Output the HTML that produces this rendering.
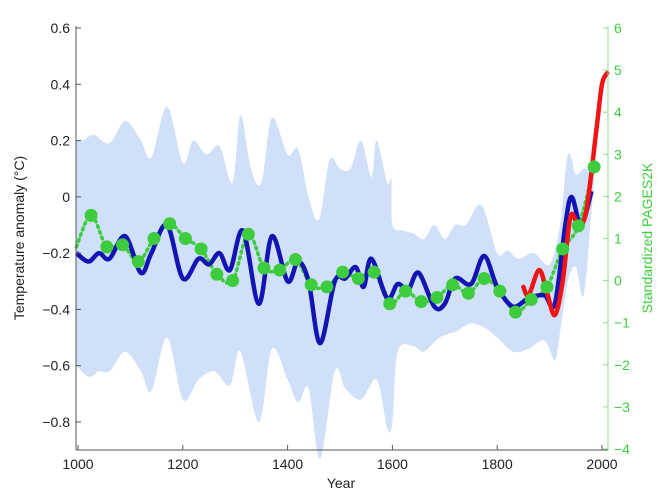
<!DOCTYPE html>
<html><head><meta charset="utf-8"><style>
body{margin:0;background:#fff;}
svg{display:block;font-family:"Liberation Sans",Arial,sans-serif;}
</style></head><body>
<svg id="chart" width="661" height="496" viewBox="0 0 661 496" xmlns="http://www.w3.org/2000/svg">
<g id="band"></g>
<g id="series"></g>
<g id="axes"></g>
<text x="341" y="488" font-size="14" text-anchor="middle" fill="#222">Year</text>
<text transform="translate(24,238) rotate(-90)" font-size="14" text-anchor="middle" fill="#222">Temperature anomaly (°C)</text>
<text transform="translate(652,238) rotate(-90)" font-size="14" text-anchor="middle" fill="#3ccf3c">Standardized PAGES2K</text>
</svg>
<script>
const xTicks=[1000,1200,1400,1600,1800,2000];
const yTicks=[0.6,0.4,0.2,0,-0.2,-0.4,-0.6,-0.8];
const y2Ticks=[6,5,4,3,2,1,0,-1,-2,-3,-4];
const bandUpperYears=[997,1010,1030,1060,1090,1120,1140,1170,1200,1220,1245,1270,1295,1310,1330,1350,1370,1400,1420,1440,1460,1480,1500,1520,1540,1560,1570,1590,1598,1600,1620,1640,1660,1680,1700,1720,1740,1770,1800,1820,1840,1870,1900,1920,1935,1950,1965,1980,1985];
const bandUpper=[0.2,0.2,0.22,0.19,0.27,0.2,0.14,0.32,0.12,0.2,0.15,0.18,0.05,0.29,0.1,0.05,0.28,0.15,0.17,0.0,-0.08,0.13,0.1,0.1,0.2,0.07,0.2,0.05,0.06,-0.1,-0.12,-0.13,-0.15,-0.1,-0.15,-0.1,-0.1,-0.03,-0.2,-0.19,-0.22,-0.2,-0.24,-0.1,0.15,0.08,0.1,0.1,0.12];
const bandLowerYears=[997,1020,1040,1060,1090,1120,1140,1170,1200,1230,1260,1290,1310,1345,1370,1400,1420,1440,1462,1490,1510,1540,1570,1590,1600,1610,1640,1660,1690,1720,1750,1780,1800,1830,1860,1890,1910,1920,1935,1950,1965,1980,1985];
const bandLower=[-0.6,-0.64,-0.62,-0.62,-0.55,-0.62,-0.69,-0.5,-0.72,-0.65,-0.62,-0.67,-0.55,-0.8,-0.54,-0.65,-0.73,-0.68,-0.93,-0.62,-0.68,-0.72,-0.65,-0.82,-0.8,-0.55,-0.53,-0.55,-0.5,-0.48,-0.45,-0.47,-0.5,-0.55,-0.54,-0.51,-0.58,-0.48,-0.3,-0.25,-0.35,-0.05,0.05];
const blueYears=[997,1020,1040,1060,1090,1120,1140,1170,1200,1230,1250,1270,1290,1315,1345,1370,1400,1420,1440,1462,1490,1510,1530,1545,1560,1590,1610,1630,1650,1680,1700,1720,1750,1775,1800,1830,1860,1890,1910,1930,1942,1960,1980];
const blueValues=[-0.2,-0.23,-0.2,-0.22,-0.14,-0.27,-0.2,-0.1,-0.29,-0.22,-0.24,-0.2,-0.26,-0.12,-0.38,-0.14,-0.3,-0.23,-0.3,-0.52,-0.3,-0.29,-0.25,-0.32,-0.22,-0.36,-0.31,-0.33,-0.27,-0.39,-0.38,-0.29,-0.31,-0.21,-0.32,-0.39,-0.36,-0.35,-0.38,-0.1,0.0,-0.1,0.02];
const redYears=[1850,1860,1880,1895,1910,1925,1940,1955,1970,1990,2000,2010];
const redValues=[-0.32,-0.35,-0.26,-0.34,-0.42,-0.3,-0.07,-0.1,-0.05,0.25,0.4,0.44];
const greenYears=[997,1025,1055,1085,1115,1145,1175,1205,1235,1265,1295,1325,1355,1385,1415,1445,1475,1505,1535,1565,1595,1625,1655,1685,1715,1745,1775,1805,1835,1865,1895,1925,1955,1985];
const greenValues=[0.8,1.55,0.8,0.85,0.45,1.0,1.35,1.0,0.75,0.15,0.0,1.1,0.3,0.25,0.5,-0.1,-0.15,0.2,0.05,0.2,-0.55,-0.25,-0.5,-0.4,-0.1,-0.3,0.05,-0.25,-0.75,-0.45,-0.15,0.75,1.3,2.7];

const NS="http://www.w3.org/2000/svg";
const X=yr=>78+(yr-1000)*0.524;
const Y=v=>28+(0.6-v)*281.4;
const Y2=v=>28+(6-v)*42.1;
function mk(tag,attrs,parent){const e=document.createElementNS(NS,tag);for(const k in attrs)e.setAttribute(k,attrs[k]);parent.appendChild(e);return e;}
function smooth(pts){let d="M"+pts[0][0]+","+pts[0][1];for(let i=0;i<pts.length-1;i++){const p0=pts[i-1]||pts[i],p1=pts[i],p2=pts[i+1],p3=pts[i+2]||p2;const c1=[p1[0]+(p2[0]-p0[0])/6,p1[1]+(p2[1]-p0[1])/6],c2=[p2[0]-(p3[0]-p1[0])/6,p2[1]-(p3[1]-p1[1])/6];d+=" C"+c1+" "+c2+" "+p2;}return d;}
const band=document.getElementById('band'),ser=document.getElementById('series'),ax=document.getElementById('axes');
const up=bandUpperYears.map((y,i)=>[X(y),Y(bandUpper[i])]);
const lo=bandLowerYears.map((y,i)=>[X(y),Y(bandLower[i])]).reverse();
let bd=smooth(up)+" L"+lo[0]+" "+smooth(lo).slice(1)+" Z";
const bp=mk('path',{d:bd,fill:'#cfe0f8'},band);


const gl=mk('path',{d:smooth(greenYears.map((y,i)=>[X(y),Y2(greenValues[i])])),fill:'none',stroke:'#3dcc3d','stroke-width':3.5,'stroke-dasharray':'2 4','stroke-linecap':'round'},ser);


const bl=mk('path',{d:smooth(blueYears.map((y,i)=>[X(y),Y(blueValues[i])])),fill:'none',stroke:'#1414b4','stroke-width':4.5,'stroke-linejoin':'round'},ser);


const rl=mk('path',{d:smooth(redYears.map((y,i)=>[X(y),Y(redValues[i])])),fill:'none',stroke:'#f01414','stroke-width':4.5,'stroke-linecap':'round'},ser);


greenYears.forEach((y,i)=>{if(i===0)return;const c=mk('circle',{cx:X(y),cy:Y2(greenValues[i]),r:6.5,fill:'#3dcc3d'},ser);

});
mk('line',{x1:76,y1:26,x2:76,y2:450,stroke:'#555','stroke-width':1},ax);
mk('line',{x1:76,y1:450,x2:608,y2:450,stroke:'#555','stroke-width':1},ax);
mk('line',{x1:608,y1:26,x2:608,y2:450,stroke:'#8fdc8f','stroke-width':1},ax);
xTicks.forEach(t=>{mk('line',{x1:X(t),y1:450,x2:X(t),y2:445,stroke:'#555'},ax);const tx=mk('text',{x:X(t),y:469,'font-size':14,'text-anchor':'middle',fill:'#222'},ax);tx.textContent=t;

});
yTicks.forEach(t=>{mk('line',{x1:76,y1:Y(t),x2:81,y2:Y(t),stroke:'#555'},ax);const tx=mk('text',{x:70,y:Y(t)+5,'font-size':14,'text-anchor':'end',fill:'#222'},ax);tx.textContent=(t===0?'0':(t<0?'\u2212':'')+Math.abs(t).toFixed(1));

});
y2Ticks.forEach(t=>{mk('line',{x1:603,y1:Y2(t),x2:608,y2:Y2(t),stroke:'#8fdc8f'},ax);const tx=mk('text',{x:614,y:Y2(t)+5,'font-size':14,fill:'#3ccf3c'},ax);tx.textContent=(t<0?'\u2212':'')+Math.abs(t);

});
</script>
</body></html>
